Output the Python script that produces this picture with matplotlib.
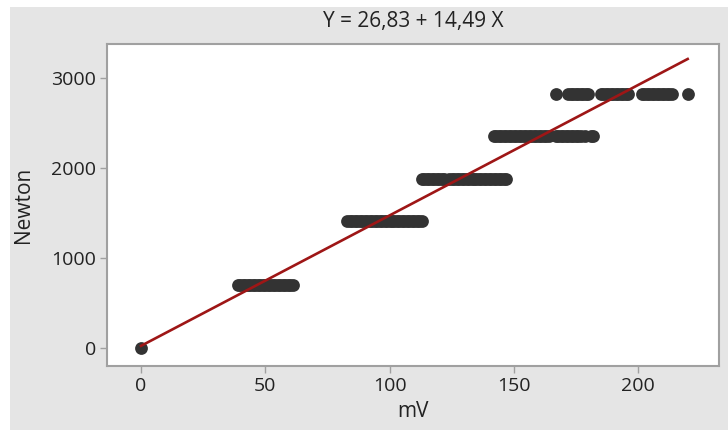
import matplotlib
matplotlib.use("Agg")
from matplotlib import pyplot as plt
from matplotlib.patches import Rectangle

plt.rcParams["font.family"] = ["Open Sans", "DejaVu Sans"]

# fitted line coefficients (Newton = a + b * mV)
intercept = 26.83
slope = 14.49
title_text = "Y = 26,83 + 14,49 X"

# force levels (Newton) and the mV readings logged at each level
levels = [0, 707, 1414, 1886, 2357, 2828]
mv_0 = [0]
mv_707 = [39, 40, 41, 42, 43, 44, 45, 46, 47, 48, 49, 50, 51, 52, 53, 54, 55, 56, 57,
          58, 59, 60, 61]
mv_1414 = [83, 84, 85, 86, 87, 88, 89, 90, 91, 92, 93, 94, 95, 96, 97, 98, 99, 100,
           101, 102, 103, 104, 105, 106, 107, 108, 109, 110, 111, 112, 113]
mv_1886 = [113, 114, 115, 116, 117, 118, 119, 120, 121, 122, 124, 125, 126, 127, 128,
           129, 130, 131, 132, 133, 134, 135, 136, 137, 138, 139, 140, 141, 142, 143,
           144, 145, 146, 147]
mv_2357 = [142, 143, 144, 145, 146, 147, 148, 149, 150, 151, 152, 153, 154, 155, 156,
           157, 158, 159, 160, 161, 162, 163, 164, 167, 168, 169, 170, 171, 172, 173,
           174, 175, 176, 177, 178.5, 181, 182]
mv_2828 = [167, 172, 173, 174, 175, 176, 177, 178, 179, 180, 185, 186, 187, 188, 189,
           190, 191, 192, 193, 194, 195, 196, 201.5, 202.5, 203.5, 204.5, 205.5, 206.5,
           207.5, 208.5, 209.5, 210.5, 211.5, 212.5, 213.5, 220]

x_ticks = [0, 50, 100, 150, 200]
y_ticks = [0, 1000, 2000, 3000]

groups = [mv_0, mv_707, mv_1414, mv_1886, mv_2357, mv_2828]

fig = plt.figure(figsize=(7.28, 4.30), dpi=100)
fig.patch.set_facecolor("white")
fig.patches.append(Rectangle((10 / 728, 0), 1, 1 - 7 / 430, transform=fig.transFigure,
                             facecolor="#e5e5e5", edgecolor="none", zorder=-5))

ax = fig.add_axes([107 / 728, 1 - 366 / 430, (719 - 107) / 728, (366 - 44) / 430])
ax.set_zorder(2)
ax.set_facecolor("white")

for lvl, xs in zip(levels, groups):
    ax.plot(xs, [lvl] * len(xs), linestyle="none", marker="o", markersize=9.2,
            color="#333333", markeredgewidth=0, zorder=2)

x_all = [v for xs in groups for v in xs]
x_line = [min(x_all), max(x_all)]
y_line = [intercept + slope * v for v in x_line]
ax.plot(x_line, y_line, color="#9e1616", linewidth=1.9, zorder=3)

ax.set_xlim(-13.7, 232.6)
ax.set_ylim(-197, 3381)
ax.set_xticks(x_ticks)
ax.set_yticks(y_ticks)

for s in ax.spines.values():
    s.set_color("#a0a0a0")
    s.set_linewidth(1.5)
ax.tick_params(axis="both", direction="out", length=5, width=1, color="#a0a0a0",
               labelsize=14, labelcolor="#222222", pad=3)

ax.set_xlabel("mV", fontsize=15, color="#222222", labelpad=4)
ax.set_ylabel("Newton", fontsize=15, color="#222222", labelpad=12)
ax.set_title(title_text, fontsize=15, color="#222222", pad=12)

plt.savefig("out.png", dpi=100, facecolor=fig.get_facecolor())
